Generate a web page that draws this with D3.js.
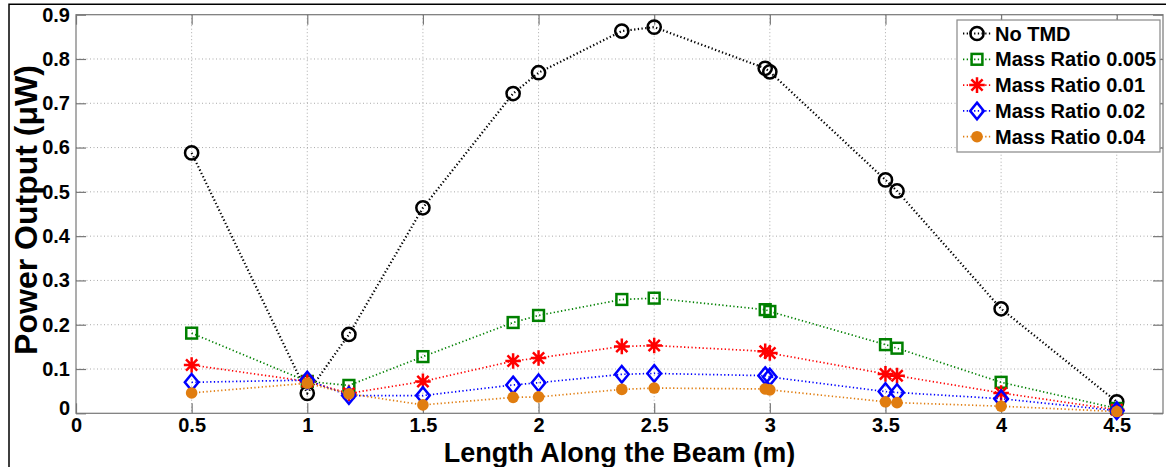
<!DOCTYPE html>
<html>
<head>
<meta charset="utf-8">
<script src="https://cdn.jsdelivr.net/npm/d3@7"></script>
<style>
  html, body { margin: 0; padding: 0; background: #fff; }
  svg { display: block; }
  text { font-family: "Liberation Sans", Arial, Helvetica, sans-serif; font-weight: bold; fill: #000; }
</style>
</head>
<body>
<svg id="chart" width="1166" height="467"></svg>
<script>
// Positions along the beam (m)
const positions = [0.5, 1, 1.18, 1.5, 1.89, 2, 2.36, 2.5, 2.98, 3, 3.5, 3.55, 4, 4.5];

// Power output (µW) for each configuration
const noTMD     = [0.588, 0.045, 0.178, 0.464, 0.722, 0.769, 0.863, 0.872, 0.779, 0.771, 0.527, 0.502, 0.236, 0.026];
const ratio0005 = [0.181, 0.072, 0.063, 0.128, 0.205, 0.221, 0.257, 0.260, 0.234, 0.230, 0.155, 0.147, 0.070, 0.011];
const ratio001  = [0.109, 0.072, 0.045, 0.072, 0.118, 0.125, 0.151, 0.153, 0.140, 0.136, 0.089, 0.085, 0.046, 0.008];
const ratio002  = [0.070, 0.075, 0.040, 0.040, 0.064, 0.069, 0.088, 0.090, 0.085, 0.082, 0.049, 0.047, 0.033, 0.006];
const ratio004  = [0.046, 0.068, 0.044, 0.019, 0.036, 0.037, 0.054, 0.057, 0.055, 0.053, 0.026, 0.024, 0.016, 0.004];

const seriesNames = ["No TMD", "Mass Ratio 0.005", "Mass Ratio 0.01", "Mass Ratio 0.02", "Mass Ratio 0.04"];

// Axis ticks
const xTicks = [0, 0.5, 1, 1.5, 2, 2.5, 3, 3.5, 4, 4.5];
const yTicks = [0, 0.1, 0.2, 0.3, 0.4, 0.5, 0.6, 0.7, 0.8, 0.9];

const styles = [
  { color: "#000000", marker: "circle" },
  { color: "#008000", marker: "square" },
  { color: "#ff0000", marker: "asterisk" },
  { color: "#0000ff", marker: "diamond" },
  { color: "#e07d10", marker: "dot" }
];
const seriesValues = [noTMD, ratio0005, ratio001, ratio002, ratio004];

const svg = d3.select("#chart");
const W = 1166, H = 467;
const plot = { left: 76, right: 1163, top: 14.7, bottom: 413.3 };

svg.append("rect").attr("width", W).attr("height", H).attr("fill", "#fff");

// Figure frame (top and left edges visible)
svg.append("path")
  .attr("d", `M9,${H} L9,4.3 L${W},4.3`)
  .attr("fill", "none").attr("stroke", "#000").attr("stroke-width", 1.5);

const x = d3.scaleLinear().domain([0, 4.7]).range([plot.left, plot.right]);
const y = d3.scaleLinear().domain([0, 0.9]).range([plot.bottom, plot.top]);

const axisColor = "#777";

// Grid lines
const grid = svg.append("g");
grid.selectAll(".gx").data(xTicks.filter(d => d > 0)).enter().append("line")
  .attr("x1", d => x(d)).attr("x2", d => x(d))
  .attr("y1", plot.top).attr("y2", plot.bottom)
  .attr("stroke", "#aaa").attr("stroke-width", 1).attr("stroke-dasharray", "1,2.5");
grid.selectAll(".gy").data(yTicks.filter(d => d > 0 && d < 0.9)).enter().append("line")
  .attr("x1", plot.left).attr("x2", plot.right)
  .attr("y1", d => y(d)).attr("y2", d => y(d))
  .attr("stroke", "#aaa").attr("stroke-width", 1).attr("stroke-dasharray", "1,2.5");

// Axes with inward ticks on all four sides
const tickLen = 10;
const axB = svg.append("g").attr("transform", `translate(0,${plot.bottom})`)
  .call(d3.axisBottom(x).tickValues(xTicks).tickSizeInner(-tickLen).tickSizeOuter(0).tickPadding(5)
    .tickFormat(d3.format("")));
const axT = svg.append("g").attr("transform", `translate(0,${plot.top})`)
  .call(d3.axisTop(x).tickValues(xTicks).tickSizeInner(-tickLen).tickSizeOuter(0).tickFormat(""));
const axL = svg.append("g").attr("transform", `translate(${plot.left},0)`)
  .call(d3.axisLeft(y).tickValues(yTicks).tickSizeInner(-tickLen).tickSizeOuter(0).tickPadding(5)
    .tickFormat(d3.format("")));
const axR = svg.append("g").attr("transform", `translate(${plot.right},0)`)
  .call(d3.axisRight(y).tickValues(yTicks).tickSizeInner(-tickLen).tickSizeOuter(0).tickFormat(""));

[axB, axT, axL, axR].forEach(a => {
  a.select(".domain").remove();
  a.selectAll(".tick line").attr("stroke", axisColor).attr("stroke-width", 1.2);
});
axB.selectAll(".tick text").attr("font-size", 20).attr("dy", "0.71em").attr("fill", "#000");
axL.selectAll(".tick text").attr("font-size", 20).attr("dx", "-0.05em").attr("fill", "#000");
axL.selectAll(".tick").filter(d => d === 0).select("text").attr("dy", "0.05em");

// Axes box
svg.append("rect")
  .attr("x", plot.left).attr("y", plot.top)
  .attr("width", plot.right - plot.left).attr("height", plot.bottom - plot.top)
  .attr("fill", "none").attr("stroke", axisColor).attr("stroke-width", 1.2);

// Axis titles
svg.append("text")
  .attr("x", (plot.left + plot.right) / 2).attr("y", 462)
  .attr("text-anchor", "middle").attr("font-size", 27)
  .text("Length Along the Beam (m)");
svg.append("text")
  .attr("transform", "translate(37,210) rotate(-90)")
  .attr("text-anchor", "middle").attr("font-size", 32)
  .text("Power Output (\u03BCW)");

// Marker drawing
function drawMarker(g, type, color) {
  const sw = 2.5;
  if (type === "circle") {
    g.append("circle").attr("r", 6.6).attr("fill", "none").attr("stroke", color).attr("stroke-width", sw);
  } else if (type === "square") {
    g.append("rect").attr("x", -5.4).attr("y", -5.4).attr("width", 10.8).attr("height", 10.8)
      .attr("fill", "none").attr("stroke", color).attr("stroke-width", sw);
  } else if (type === "asterisk") {
    const r = 7.8, d = r * 0.72;
    g.append("path").attr("d", `M${-r},0L${r},0M0,${-r}L0,${r}M${-d},${-d}L${d},${d}M${-d},${d}L${d},${-d}`)
      .attr("fill", "none").attr("stroke", color).attr("stroke-width", sw);
  } else if (type === "diamond") {
    const rx = 6.8, ry = 8.3;
    g.append("path").attr("d", `M0,${-ry}L${rx},0L0,${ry}L${-rx},0Z`)
      .attr("fill", "none").attr("stroke", color).attr("stroke-width", sw);
  } else if (type === "dot") {
    g.append("circle").attr("r", 5.8).attr("fill", color).attr("stroke", "none");
  }
}

const line = d3.line().x(d => x(d[0])).y(d => y(d[1]));

seriesValues.forEach((vals, i) => {
  const st = styles[i];
  const pts = positions.map((p, j) => [p, vals[j]]);
  const g = svg.append("g");
  g.append("path").datum(pts).attr("d", line)
    .attr("fill", "none").attr("stroke", st.color)
    .attr("stroke-width", i === 0 ? 2.2 : 1.7)
    .attr("stroke-dasharray", "1.3,2.4");
  g.selectAll(".m").data(pts).enter().append("g")
    .attr("transform", d => `translate(${x(d[0])},${y(d[1])})`)
    .each(function () { drawMarker(d3.select(this), st.marker, st.color); });
});

// Legend
const lg = svg.append("g");
lg.append("rect").attr("x", 957).attr("y", 20).attr("width", 203).attr("height", 132)
  .attr("fill", "#fff").attr("stroke", "#888").attr("stroke-width", 1.2);
seriesNames.forEach((name, i) => {
  const cy = 33.5 + i * 25.8;
  const st = styles[i];
  lg.append("line").attr("x1", 963).attr("x2", 991).attr("y1", cy).attr("y2", cy)
    .attr("stroke", st.color).attr("stroke-width", i === 0 ? 2.2 : 1.7).attr("stroke-dasharray", "1.3,2.4");
  const mg = lg.append("g").attr("transform", `translate(977,${cy})`);
  drawMarker(mg, st.marker, st.color);
  lg.append("text").attr("x", 995).attr("y", cy + 7).attr("font-size", 20).text(name);
});
</script>
</body>
</html>
